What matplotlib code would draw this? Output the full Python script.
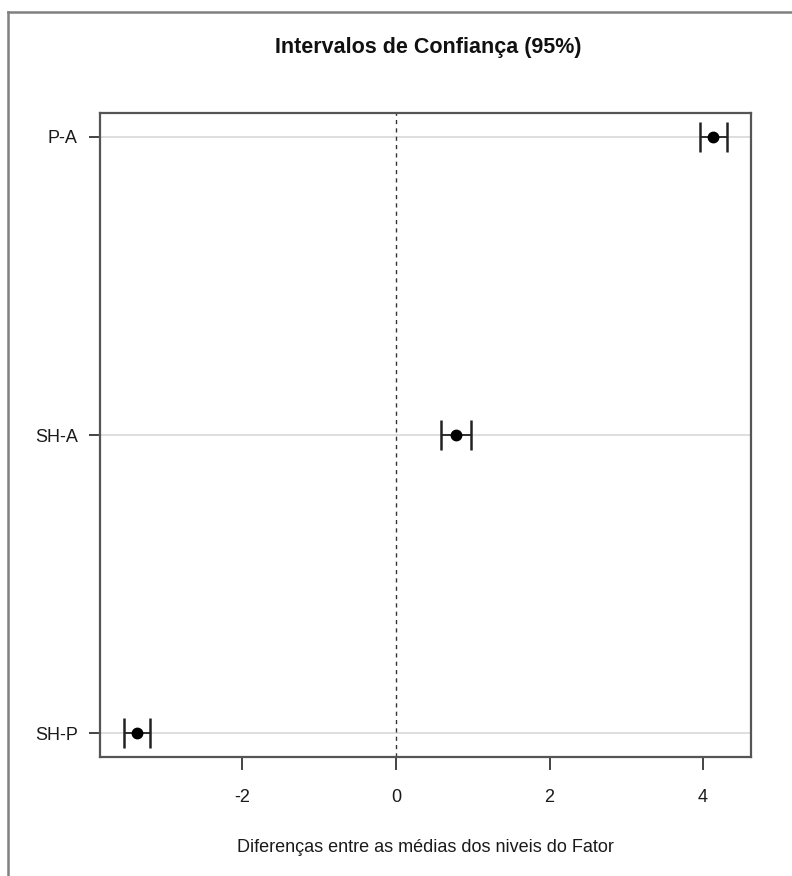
import matplotlib
matplotlib.use("Agg")
import matplotlib.pyplot as plt
from matplotlib.lines import Line2D

# Tukey-style confidence intervals for pairwise differences of factor levels
comparisons = ["SH-P", "SH-A", "P-A"]
diff = [-3.37, 0.78, 4.125]
lower = [-3.54, 0.585, 3.96]
upper = [-3.20, 0.98, 4.31]

title = "Intervalos de Confiança (95%)"
xlabel = "Diferenças entre as médias dos niveis do Fator"
xticks = [-2, 0, 2, 4]

plt.rcParams["font.family"] = ["Liberation Sans", "DejaVu Sans"]

W, H = 792, 876
fig = plt.figure(figsize=(W / 100, H / 100), dpi=100)
ax = fig.add_axes([100 / W, 1 - 757 / H, (751 - 100) / W, (757 - 113) / H])

ypos = list(range(1, len(comparisons) + 1))

# light horizontal guide lines at each comparison
for y in ypos:
    ax.axhline(y, color="#d8d8d8", lw=1.2, zorder=0)

# reference line at zero difference
ax.axvline(0, color="#333333", lw=1.0, ls=(0, (3, 3)), zorder=1)

xerr = [[d - lo for d, lo in zip(diff, lower)], [hi - d for d, hi in zip(diff, upper)]]
ax.errorbar(diff, ypos, xerr=xerr, fmt="o", color="black", ecolor="#222222",
            elinewidth=1.3, capsize=10.5, capthick=1.8, markersize=7.5, zorder=3)

# R-style 4% padding on both axes
span = max(upper) - min(lower)
ax.set_xlim(min(lower) - 0.04 * span, max(upper) + 0.04 * span)
ax.set_ylim(1 - 0.08, len(comparisons) + 0.08)

ax.set_xticks(xticks)
ax.set_xticklabels([str(t) for t in xticks])
ax.set_yticks(ypos)
ax.set_yticklabels(comparisons)
ax.tick_params(axis="x", length=9, width=1.4, color="#444444", pad=14,
               labelsize=13, labelcolor="#1a1a1a")
ax.tick_params(axis="y", length=8, width=1.4, color="#444444", pad=8,
               labelsize=13, labelcolor="#1a1a1a")

for s in ax.spines.values():
    s.set_color("#555555")
    s.set_linewidth(1.6)

fig.text(428 / W, 1 - 48 / H, title, ha="center", va="center",
         fontsize=15.5, fontweight="bold", color="#111111")
fig.text(425.5 / W, 1 - 848 / H, xlabel, ha="center", va="center",
         fontsize=13, color="#1a1a1a")

# outer frame (left and top edges visible)
fig.add_artist(Line2D([8 / W, 8 / W], [0, 1 - 12 / H], transform=fig.transFigure,
                      color="#808080", lw=1.8))
fig.add_artist(Line2D([8 / W, 1], [1 - 12 / H, 1 - 12 / H], transform=fig.transFigure,
                      color="#808080", lw=1.8))

fig.savefig("out.png", dpi=100)
